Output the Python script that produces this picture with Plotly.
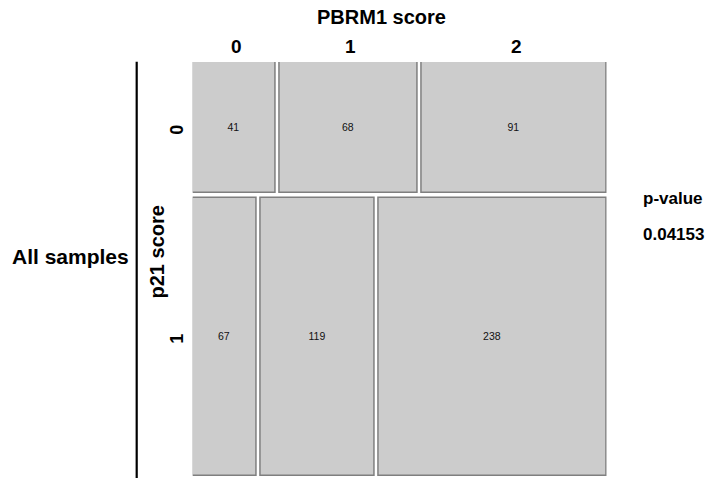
import plotly.graph_objects as go

# ---- data ----
pbrm1_levels = ["0", "1", "2"]          # columns (PBRM1 score)
p21_levels = ["0", "1"]                 # rows (p21 score)
counts_p21_0 = [41, 68, 91]
counts_p21_1 = [67, 119, 238]
p_value = "0.04153"
row_title = "All samples"
col_var = "PBRM1 score"
row_var = "p21 score"

# ---- geometry of the mosaic (in plot units) ----
W_FIG, H_FIG = 710, 478
PANEL_L, PANEL_R, PANEL_T, PANEL_B = 192.7, 606.7, 62.0, 476.0
GAP_X, GAP_Y = 4.0, 4.4
panel_w = PANEL_R - PANEL_L
panel_h = PANEL_B - PANEL_T

rows = [counts_p21_0, counts_p21_1]
row_totals = [sum(r) for r in rows]
grand = sum(row_totals)
avail_h = panel_h - GAP_Y * (len(rows) - 1)
avail_w = panel_w - GAP_X * (len(pbrm1_levels) - 1)

FONT = "Liberation Sans, Arial, Helvetica, sans-serif"
fig = go.Figure()
annotations = []

def px_x(v):
    return v / W_FIG

def px_y(v):
    return 1 - v / H_FIG

y0 = 0.0
row_centers = []
top_row_centers = []
for ri, r in enumerate(rows):
    h = avail_h * row_totals[ri] / grand
    x0 = 0.0
    xs, ws = [], []
    for c in r:
        w = avail_w * c / row_totals[ri]
        xs.append(x0 + w / 2)
        ws.append(w)
        x0 += w + GAP_X
    if ri == 0:
        top_row_centers = xs[:]
    fig.add_trace(go.Bar(
        x=xs, y=[h] * len(r), base=[y0] * len(r), width=ws,
        marker=dict(color="#CCCCCC", line=dict(color="#7f7f7f", width=1.5)),
        text=[str(c) for c in r], textposition="inside",
        insidetextanchor="middle", textangle=0,
        textfont=dict(family=FONT, size=10.5, color="#111111"),
        hoverinfo="skip", showlegend=False,
    ))
    row_centers.append(y0 + h / 2)
    y0 += h + GAP_Y

fig.update_layout(
    width=W_FIG, height=H_FIG,
    margin=dict(l=0, r=0, t=0, b=0),
    paper_bgcolor="white", plot_bgcolor="white",
    barmode="overlay", bargap=0,
    xaxis=dict(range=[0, panel_w], domain=[PANEL_L / W_FIG, PANEL_R / W_FIG],
               visible=False, fixedrange=True),
    yaxis=dict(range=[panel_h, 0], domain=[1 - PANEL_B / H_FIG, 1 - PANEL_T / H_FIG],
               visible=False, fixedrange=True),
)

# column labels (top)
for lab, xc in zip(pbrm1_levels, top_row_centers):
    annotations.append(dict(x=xc + 2, y=px_y(46.5), xref="x", yref="paper", text=f"<b>{lab}</b>",
                            showarrow=False, font=dict(family=FONT, size=19, color="black"),
                            xanchor="center", yanchor="middle"))
# row labels (left, rotated)
for lab, yc in zip(p21_levels, row_centers):
    annotations.append(dict(x=px_x(177), y=yc + 2, xref="paper", yref="y", text=f"<b>{lab}</b>",
                            showarrow=False, textangle=-90,
                            font=dict(family=FONT, size=18, color="black"),
                            xanchor="center", yanchor="middle"))

annotations += [
    dict(x=px_x(381.7), y=px_y(16.7), xref="paper", yref="paper",
         text=f"<b>{col_var}</b>", showarrow=False,
         font=dict(family=FONT, size=20, color="black"), xanchor="center", yanchor="middle"),
    dict(x=px_x(156.5), y=px_y(252), xref="paper", yref="paper",
         text=f"<b>{row_var}</b>", showarrow=False, textangle=-90,
         font=dict(family=FONT, size=20, color="black"), xanchor="center", yanchor="middle"),
    dict(x=px_x(70.7), y=px_y(256.7), xref="paper", yref="paper",
         text=f"<b>{row_title}</b>", showarrow=False,
         font=dict(family=FONT, size=21, color="black"), xanchor="center", yanchor="middle"),
    dict(x=px_x(673), y=px_y(198), xref="paper", yref="paper",
         text="<b>p-value</b>", showarrow=False,
         font=dict(family=FONT, size=17, color="black"), xanchor="center", yanchor="middle"),
    dict(x=px_x(673), y=px_y(234), xref="paper", yref="paper",
         text=f"<b>{p_value}</b>", showarrow=False,
         font=dict(family=FONT, size=17, color="black"), xanchor="center", yanchor="middle"),
]
fig.update_layout(annotations=annotations)

fig.add_shape(type="line", xref="paper", yref="paper",
              x0=px_x(136.7), x1=px_x(136.7), y0=0, y1=px_y(61.7),
              line=dict(color="black", width=2.2))

fig.write_html("out.html", config={"displayModeBar": False},
               post_script="document.body.style.margin='0';document.body.style.padding='0';")
